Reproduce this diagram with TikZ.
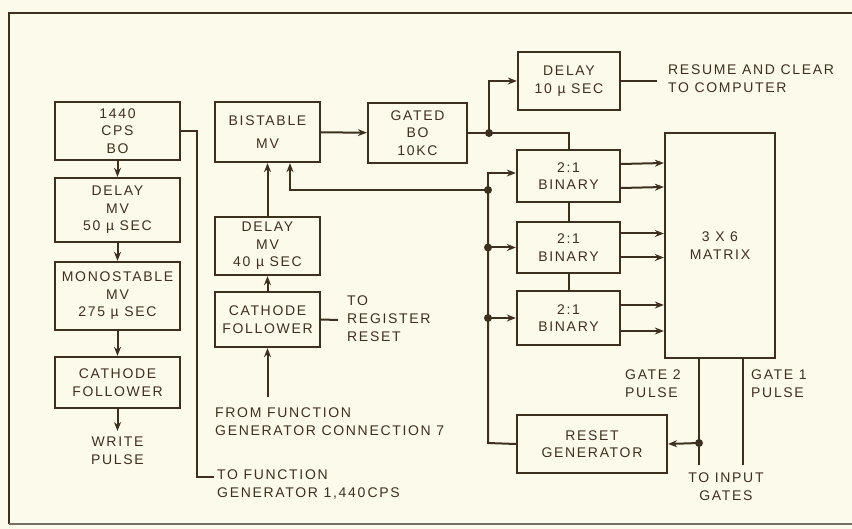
\documentclass[tikz,border=0pt]{standalone}
\usepackage{fontspec}
\setmainfont[LetterSpace=12]{Liberation Sans}
\usetikzlibrary{arrows.meta,calc}
\definecolor{ink}{rgb}{0.24,0.19,0.13}
\definecolor{paper}{rgb}{0.99,0.98,0.92}
\tikzset{
  box/.style={draw=ink, line width=2.3pt, align=center, inner sep=0pt, text=ink, font=\fontsize{14}{17.5}\selectfont},
  lbl/.style={align=left, inner sep=0pt, text=ink, font=\fontsize{14}{18}\selectfont},
  wire/.style={draw=ink, line width=2pt},
  arr/.style={wire, -{Stealth[length=9pt,width=7pt]}},
  dot/.style={circle, fill=ink, inner sep=0pt, minimum size=8pt},
}
\begin{document}
\begin{tikzpicture}[x=1pt,y=-1pt]
\fill[paper] (0,0) rectangle (852,529);
\useasboundingbox (0,0) rectangle (852,529);
\draw[ink, line width=2.8pt] (852,13) -- (9,13) -- (9,524);
\draw[ink!70, line width=2.2pt] (9,524) -- (852,524);

% left column
\node[box, minimum width=125pt, minimum height=58pt] (bo) at (117.5,131) {1440\\CPS\\BO};
\node[box, minimum width=125pt, minimum height=64pt] (d50) at (117.5,210) {DELAY\\MV\\50 µ SEC};
\node[box, minimum width=125pt, minimum height=68pt] (mono) at (117.5,296) {MONOSTABLE\\MV\\275 µ SEC};
\node[box, minimum width=125pt, minimum height=51pt] (cf1) at (117.5,382.5) {CATHODE\\FOLLOWER};
\node[lbl, align=center, anchor=north] (write) at (117.5,437) {WRITE\\PULSE};
\draw[arr] (bo) -- (d50);
\draw[arr] (d50) -- (mono);
\draw[arr] (mono) -- (cf1);
\draw[arr] (cf1.south) -- ($(write.north)+(0,-6)$);
\node[lbl, anchor=north west] (tofg) at (217,470) {TO FUNCTION\\GENERATOR 1,440\,CPS};
\coordinate (tofgend) at (214,477);
\draw[wire] (bo.east) -| (197,477) -- (tofgend);

% middle column
\node[box, minimum width=105pt, minimum height=60pt] (bist) at (267.5,132) {BISTABLE\\[5pt]MV};
\node[box, minimum width=105pt, minimum height=58pt] (d40) at (267.5,246) {DELAY\\MV\\40 µ SEC};
\node[box, minimum width=105pt, minimum height=55pt] (cf2) at (267.5,319.5) {CATHODE\\FOLLOWER};
\node[lbl, anchor=north west] (fromfg) at (215,408) {FROM FUNCTION\\GENERATOR CONNECTION 7};
\coordinate (fromfgtop) at (267.5,397);
\draw[arr] (fromfgtop) -- (cf2.south);
\draw[arr] (cf2) -- (d40);
\draw[arr] (d40) -- (bist);
\node[lbl, anchor=north west] (treg) at (347,296) {TO\\REGISTER\\RESET};
\coordinate (tregend) at (338,320);
\draw[wire] (cf2.east) -- (tregend);

\node[box, minimum width=99pt, minimum height=60pt] (gated) at (417.5,133) {GATED\\BO\\10KC};
\draw[arr] (bist) -- (gated);

% right part
\node[box, minimum width=102pt, minimum height=58pt] (d10) at (569,81) {DELAY\\10 µ SEC};
\node[lbl, anchor=north west] (resume) at (668,65) {RESUME AND CLEAR\\TO COMPUTER};
\coordinate (resend) at (657,81);
\draw[wire] (d10.east) -- (resend);

\node[box, minimum width=103pt, minimum height=52pt] (b1) at (568.5,176) {2:1\\BINARY};
\node[box, minimum width=103pt, minimum height=51pt] (b2) at (568.5,247.5) {2:1\\BINARY};
\node[box, minimum width=103pt, minimum height=54pt] (b3) at (568.5,318) {2:1\\BINARY};
\node[box, minimum width=110pt, minimum height=225pt] (mat) at (720,245.5) {3 X 6\\MATRIX};
\node[box, minimum width=150pt, minimum height=58pt] (reset) at (592,444) {RESET\\GENERATOR};

\node[dot] (j1) at (489,133) {};
\node[dot] (j2) at (488,190) {};
\node[dot] (j3) at (488,247.5) {};
\node[dot] (j4) at (488,318) {};
\node[dot] (jr) at (699,443) {};

\draw[wire] (gated.east) -- (j1.center) -| (b1.north);
\draw[arr] (j1.center) |- (d10.west);
\draw[wire] (b1) -- (b2);
\draw[wire] (b2) -- (b3);

\draw[arr] ($(b1.east)+(0,-12)$) -- ($(mat.west)+(0,-82.5)$);
\draw[arr] ($(b1.east)+(0,12)$) -- ($(mat.west)+(0,-58.5)$);
\draw[arr] ($(b2.east)+(0,-14)$) -- ($(mat.west)+(0,-12)$);
\draw[arr] ($(b2.east)+(0,10)$) -- ($(mat.west)+(0,12)$);
\draw[arr] ($(b3.east)+(0,-13)$) -- ($(mat.west)+(0,59.5)$);
\draw[arr] ($(b3.east)+(0,13)$) -- ($(mat.west)+(0,85.5)$);

\draw[arr] (j2.center) -| ($(bist.south)+(22.5,0)$);
\draw[arr] (j2.center) |- ($(b1.west)+(0,-3)$);
\draw[arr] (j3.center) -- (b2.west);
\draw[arr] (j4.center) -- (b3.west);
\draw[wire] (j2.center) -- (j3.center) -- (j4.center) -- (488,443) -- (reset.west);

\coordinate (g2top) at ($(mat.south)+(-21,0)$);
\coordinate (g2end) at (699,465);
\coordinate (g1top) at ($(mat.south)+(23,0)$);
\coordinate (g1end) at (743,465);
\draw[wire] (g2top) -- (g2end);
\draw[wire] (g1top) -- (g1end);
\draw[arr] (jr.center) -- (reset.east);

\node[lbl, anchor=north west] (g2l) at (625,370) {GATE 2\\PULSE};
\node[lbl, anchor=north west] (g1l) at (751,370) {GATE 1\\PULSE};
\node[lbl, align=center, anchor=north] (toin) at (726,473) {TO INPUT\\GATES};
\end{tikzpicture}
\end{document}
